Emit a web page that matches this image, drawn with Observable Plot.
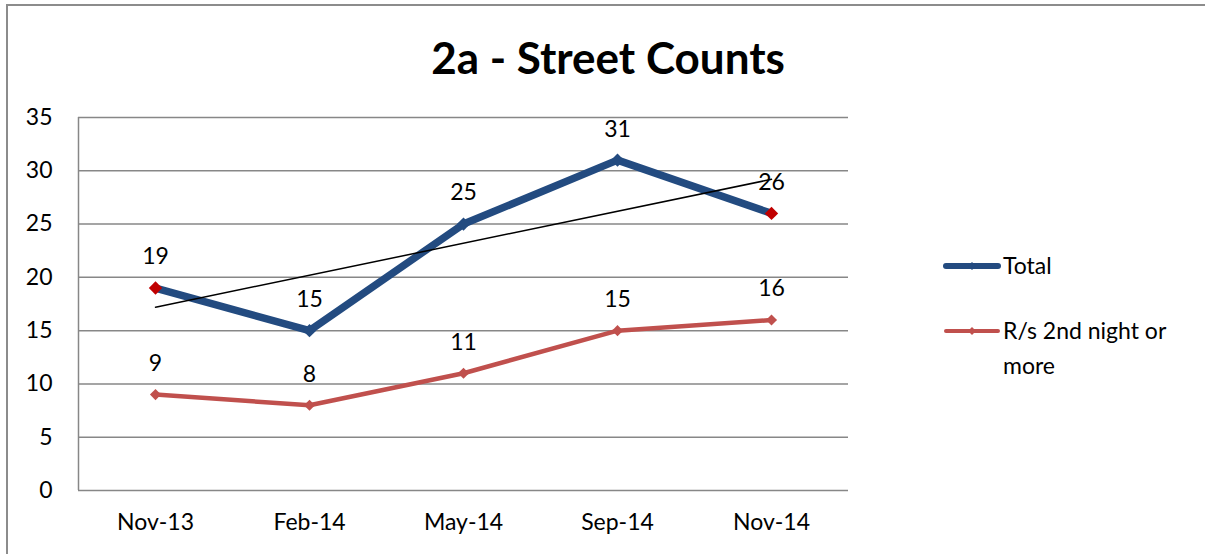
<!DOCTYPE html>
<html>
<head>
<meta charset="utf-8">
<script src="https://cdn.jsdelivr.net/npm/d3@7"></script>
<script src="https://cdn.jsdelivr.net/npm/@observablehq/plot@0.6"></script>
<style>
  html, body { margin: 0; padding: 0; background: #fff; overflow: hidden; }
  #wrap { position: relative; width: 1205px; height: 554px; font-family: Lato, "Open Sans", sans-serif; color: #000; }
  #frame { position: absolute; left: 6px; top: 4px; width: 1220px; height: 580px; border: 2px solid #8c8c8c; box-sizing: border-box; }
  #title { position: absolute; left: 0; width: 1216px; top: 30px; text-align: center; font-size: 44px; font-weight: bold; line-height: 54px; }
  #chart { position: absolute; left: 0; top: 0; }
  .leg { position: absolute; font-size: 23px; line-height: 35px; }
  .leg svg { position: absolute; left: 0; }
</style>
</head>
<body>
<div id="wrap">
  <div id="frame"></div>
  <div id="chart"></div>
  <div id="title">2a - Street Counts</div>
  <div class="leg" style="left:942px; top:248px;">
    <svg width="60" height="36" style="top:0"><line x1="4" y1="18" x2="56" y2="18" stroke="#234B80" stroke-width="6" stroke-linecap="round"/><path d="M30 14 L34 18 L30 22 L26 18 Z" fill="#234B80"/></svg>
    <div style="position:absolute; left:61px; top:0; white-space:nowrap;">Total</div>
  </div>
  <div class="leg" style="left:942px; top:313px;">
    <svg width="60" height="36" style="top:0"><line x1="4" y1="18" x2="56" y2="18" stroke="#C0504D" stroke-width="4" stroke-linecap="round"/><path d="M30 14 L34 18 L30 22 L26 18 Z" fill="#C0504D"/></svg>
    <div style="position:absolute; left:61px; top:0; white-space:nowrap;">R/s 2nd night or<br>more</div>
  </div>
</div>
<script>
const months = ["Nov-13", "Feb-14", "May-14", "Sep-14", "Nov-14"];
const total = [19, 15, 25, 31, 26];
const repeat = [9, 8, 11, 15, 16];
const highlighted = [0, 4]; // points shown with red markers on Total

const idx = months.map((_, i) => i);
const totalData = idx.map(i => ({i, v: total[i], hi: highlighted.includes(i)}));
const repeatData = idx.map(i => ({i, v: repeat[i]}));

const chart = Plot.plot({
  width: 1205,
  height: 554,
  marginLeft: 78,
  marginRight: 357,
  marginTop: 117,
  marginBottom: 64,
  style: { fontFamily: "Lato, 'Open Sans', sans-serif", fontSize: "23px", color: "#000", background: "transparent", overflow: "visible" },
  x: { type: "linear", domain: [-0.5, 4.5], label: null },
  y: { domain: [0, 35], label: null },
  marks: [
    Plot.gridY(d3.range(5, 36, 5), { stroke: "#878787", strokeOpacity: 1, strokeWidth: 1.5 }),
    Plot.ruleX([-0.5], { stroke: "#878787", strokeWidth: 1.5 }),
    Plot.ruleY([0], { stroke: "#878787", strokeWidth: 1.5 }),
    Plot.axisX({ ticks: idx, tickFormat: i => months[i], tickSize: 0, tickPadding: 23, fontSize: 23 }),
    Plot.axisY({ ticks: d3.range(0, 36, 5), tickSize: 0, tickPadding: 26, fontSize: 23 }),
    Plot.line(repeatData, { x: "i", y: "v", stroke: "#C0504D", strokeWidth: 4.5 }),
    Plot.dot(repeatData, { x: "i", y: "v", symbol: "diamond2", r: 5, fill: "#C0504D", stroke: null }),
    Plot.line(totalData, { x: "i", y: "v", stroke: "#234B80", strokeWidth: 7.5 }),
    Plot.dot(totalData, { x: "i", y: "v", symbol: "diamond2", r: 6, fill: d => d.hi ? "#C00000" : "#234B80", stroke: null }),
    Plot.linearRegressionY(totalData, { x: "i", y: "v", stroke: "#000", strokeWidth: 1.5, ci: 0 }),
    Plot.text(totalData, { x: "i", y: "v", text: d => String(d.v), dy: -31, fontSize: 23, fill: "#000" }),
    Plot.text(repeatData, { x: "i", y: "v", text: d => String(d.v), dy: -31, fontSize: 23, fill: "#000" })
  ]
});
document.getElementById("chart").appendChild(chart);
</script>
</body>
</html>
